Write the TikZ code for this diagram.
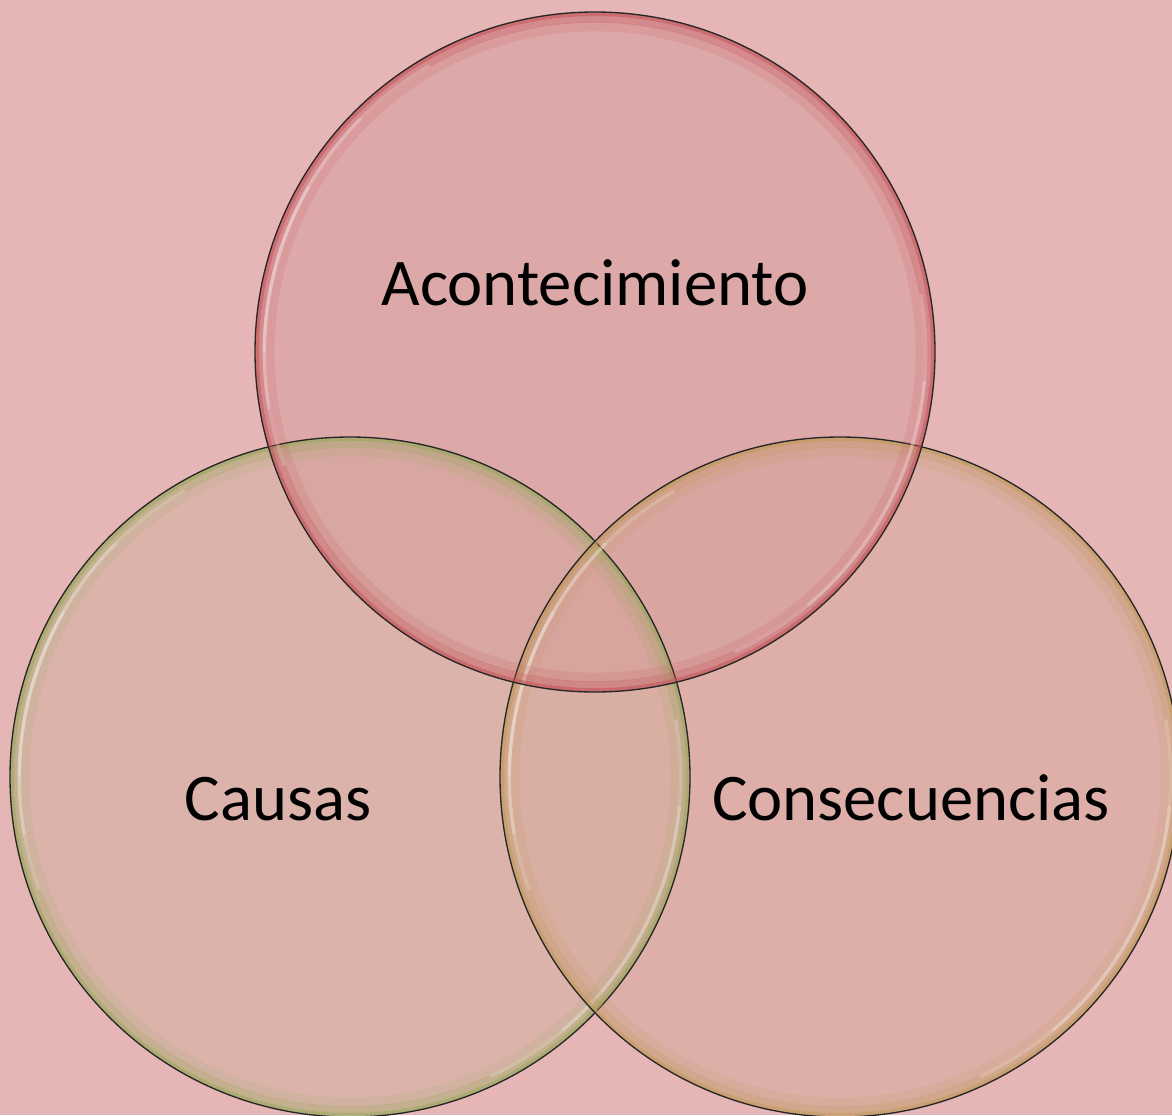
\documentclass[tikz,border=0pt]{standalone}
\usepackage{fontspec}
\setmainfont{Carlito}
\definecolor{bgpink}{HTML}{E6B6B7}
\definecolor{topfill}{HTML}{D69C9B}
\definecolor{leftfill}{HTML}{D4B2A1}
\definecolor{rightfill}{HTML}{D8AA9D}
\definecolor{toprim}{HTML}{C4545A}
\definecolor{leftrim}{HTML}{98A85C}
\definecolor{rightrim}{HTML}{C09A5C}

\begin{document}
\begin{tikzpicture}[x=0.75pt, y=-0.75pt,
  ring/.style={circle, minimum size=510pt, inner sep=0pt, fill opacity=.5},
  word/.style={anchor=base, font=\fontsize{50}{60}\selectfont}]
  \fill[bgpink] (0,0) rectangle (1172,1115);
  \useasboundingbox (0,0) rectangle (1172,1115);

  % the three circles
  \node[ring, fill=leftfill] (causas) at (350,777) {};
  \node[ring, fill=rightfill] (conseq) at (840,777) {};
  \node[ring, fill=topfill] (acont) at (595,352) {};

  % rims and highlights
  \foreach \c/\col in {causas/leftrim, conseq/rightrim, acont/toprim} {
    \draw[\col, line width=3pt, opacity=.7] (\c.center) circle (253.5pt);
    \draw[\col, line width=5pt, opacity=.35] (\c.center) circle (249.5pt);
    \draw[\col, line width=7pt, opacity=.15] (\c.center) circle (244pt);
    \foreach \a/\b in {200/120, 190/135, 180/150}
      \draw[white, line width=2.5pt, opacity=.2]
        ([shift={(\c.center)}] \a:248pt) arc (\a:\b:248pt);
    \foreach \a/\b in {-65/10, -50/-5}
      \draw[white, line width=2.5pt, opacity=.2]
        ([shift={(\c.center)}] \a:248pt) arc (\a:\b:248pt);
    \draw[black!85, line width=1pt] (\c.center) circle (255pt);
  }

  \node[word] (t1) at (595,305) {Acontecimiento};
  \node[word] (t2) at (278,820) {Causas};
  \node[word] (t3) at (911,820) {Consecuencias};
\end{tikzpicture}
\end{document}
